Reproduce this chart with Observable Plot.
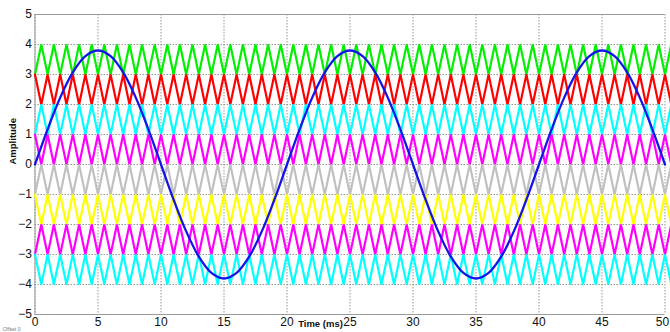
<!DOCTYPE html>
<html>
<head>
<meta charset="utf-8">
<script src="https://cdn.jsdelivr.net/npm/d3@7"></script>
<script src="https://cdn.jsdelivr.net/npm/@observablehq/plot@0.6"></script>
<style>
  html, body { margin: 0; padding: 0; background: #fff; }
  #chart { width: 670px; height: 332px; overflow: hidden; }
</style>
</head>
<body>
<div id="chart"></div>
<script>
// Tick labels
const xTicks = [0, 5, 10, 15, 20, 25, 30, 35, 40, 45, 50];
const yTicks = [-5, -4, -3, -2, -1, 0, 1, 2, 3, 4, 5];

// Triangle-wave vertex times (ms)
const vertexTimes = [
  0, 0.5, 1, 1.5, 2, 2.5, 3, 3.5, 4, 4.5, 5, 5.5, 6, 6.5, 7, 7.5, 8, 8.5, 9, 9.5,
  10, 10.5, 11, 11.5, 12, 12.5, 13, 13.5, 14, 14.5, 15, 15.5, 16, 16.5, 17, 17.5, 18, 18.5, 19, 19.5,
  20, 20.5, 21, 21.5, 22, 22.5, 23, 23.5, 24, 24.5, 25, 25.5, 26, 26.5, 27, 27.5, 28, 28.5, 29, 29.5,
  30, 30.5, 31, 31.5, 32, 32.5, 33, 33.5, 34, 34.5, 35, 35.5, 36, 36.5, 37, 37.5, 38, 38.5, 39, 39.5,
  40, 40.5, 41, 41.5, 42, 42.5, 43, 43.5, 44, 44.5, 45, 45.5, 46, 46.5, 47, 47.5, 48, 48.5, 49, 49.5,
  50, 50.5
];

// Triangle series values at the vertex times
const green = [
  3,4,3,4,3,4,3,4,3,4,3,4,3,4,3,4,3,4,3,4,
  3,4,3,4,3,4,3,4,3,4,3,4,3,4,3,4,3,4,3,4,
  3,4,3,4,3,4,3,4,3,4,3,4,3,4,3,4,3,4,3,4,
  3,4,3,4,3,4,3,4,3,4,3,4,3,4,3,4,3,4,3,4,
  3,4,3,4,3,4,3,4,3,4,3,4,3,4,3,4,3,4,3,4,
  3,4
];
const red = [
  3,2,3,2,3,2,3,2,3,2,3,2,3,2,3,2,3,2,3,2,
  3,2,3,2,3,2,3,2,3,2,3,2,3,2,3,2,3,2,3,2,
  3,2,3,2,3,2,3,2,3,2,3,2,3,2,3,2,3,2,3,2,
  3,2,3,2,3,2,3,2,3,2,3,2,3,2,3,2,3,2,3,2,
  3,2,3,2,3,2,3,2,3,2,3,2,3,2,3,2,3,2,3,2,
  3,2
];
const cyanHigh = [
  1,2,1,2,1,2,1,2,1,2,1,2,1,2,1,2,1,2,1,2,
  1,2,1,2,1,2,1,2,1,2,1,2,1,2,1,2,1,2,1,2,
  1,2,1,2,1,2,1,2,1,2,1,2,1,2,1,2,1,2,1,2,
  1,2,1,2,1,2,1,2,1,2,1,2,1,2,1,2,1,2,1,2,
  1,2,1,2,1,2,1,2,1,2,1,2,1,2,1,2,1,2,1,2,
  1,2
];
const magentaHigh = [
  1,0,1,0,1,0,1,0,1,0,1,0,1,0,1,0,1,0,1,0,
  1,0,1,0,1,0,1,0,1,0,1,0,1,0,1,0,1,0,1,0,
  1,0,1,0,1,0,1,0,1,0,1,0,1,0,1,0,1,0,1,0,
  1,0,1,0,1,0,1,0,1,0,1,0,1,0,1,0,1,0,1,0,
  1,0,1,0,1,0,1,0,1,0,1,0,1,0,1,0,1,0,1,0,
  1,0
];
const gray = [
  -1,0,-1,0,-1,0,-1,0,-1,0,-1,0,-1,0,-1,0,-1,0,-1,0,
  -1,0,-1,0,-1,0,-1,0,-1,0,-1,0,-1,0,-1,0,-1,0,-1,0,
  -1,0,-1,0,-1,0,-1,0,-1,0,-1,0,-1,0,-1,0,-1,0,-1,0,
  -1,0,-1,0,-1,0,-1,0,-1,0,-1,0,-1,0,-1,0,-1,0,-1,0,
  -1,0,-1,0,-1,0,-1,0,-1,0,-1,0,-1,0,-1,0,-1,0,-1,0,
  -1,0
];
const yellow = [
  -1,-2,-1,-2,-1,-2,-1,-2,-1,-2,-1,-2,-1,-2,-1,-2,-1,-2,-1,-2,
  -1,-2,-1,-2,-1,-2,-1,-2,-1,-2,-1,-2,-1,-2,-1,-2,-1,-2,-1,-2,
  -1,-2,-1,-2,-1,-2,-1,-2,-1,-2,-1,-2,-1,-2,-1,-2,-1,-2,-1,-2,
  -1,-2,-1,-2,-1,-2,-1,-2,-1,-2,-1,-2,-1,-2,-1,-2,-1,-2,-1,-2,
  -1,-2,-1,-2,-1,-2,-1,-2,-1,-2,-1,-2,-1,-2,-1,-2,-1,-2,-1,-2,
  -1,-2
];
const magentaLow = [
  -3,-2,-3,-2,-3,-2,-3,-2,-3,-2,-3,-2,-3,-2,-3,-2,-3,-2,-3,-2,
  -3,-2,-3,-2,-3,-2,-3,-2,-3,-2,-3,-2,-3,-2,-3,-2,-3,-2,-3,-2,
  -3,-2,-3,-2,-3,-2,-3,-2,-3,-2,-3,-2,-3,-2,-3,-2,-3,-2,-3,-2,
  -3,-2,-3,-2,-3,-2,-3,-2,-3,-2,-3,-2,-3,-2,-3,-2,-3,-2,-3,-2,
  -3,-2,-3,-2,-3,-2,-3,-2,-3,-2,-3,-2,-3,-2,-3,-2,-3,-2,-3,-2,
  -3,-2
];
const cyanLow = [
  -3,-4,-3,-4,-3,-4,-3,-4,-3,-4,-3,-4,-3,-4,-3,-4,-3,-4,-3,-4,
  -3,-4,-3,-4,-3,-4,-3,-4,-3,-4,-3,-4,-3,-4,-3,-4,-3,-4,-3,-4,
  -3,-4,-3,-4,-3,-4,-3,-4,-3,-4,-3,-4,-3,-4,-3,-4,-3,-4,-3,-4,
  -3,-4,-3,-4,-3,-4,-3,-4,-3,-4,-3,-4,-3,-4,-3,-4,-3,-4,-3,-4,
  -3,-4,-3,-4,-3,-4,-3,-4,-3,-4,-3,-4,-3,-4,-3,-4,-3,-4,-3,-4,
  -3,-4
];

// Blue sine samples (ms, amplitude)
const sineTimes = [
  0,1,2,3,4,5,6,7,8,9,10,11,12,13,14,15,16,17,18,19,
  20,21,22,23,24,25,26,27,28,29,30,31,32,33,34,35,36,37,38,39,
  40,41,42,43,44,45,46,47,48,49,50
];
const sineValues = [
  0, 1.17, 2.23, 3.07, 3.61, 3.8, 3.61, 3.07, 2.23, 1.17,
  0, -1.17, -2.23, -3.07, -3.61, -3.8, -3.61, -3.07, -2.23, -1.17,
  0, 1.17, 2.23, 3.07, 3.61, 3.8, 3.61, 3.07, 2.23, 1.17,
  0, -1.17, -2.23, -3.07, -3.61, -3.8, -3.61, -3.07, -2.23, -1.17,
  0, 1.17, 2.23, 3.07, 3.61, 3.8, 3.61, 3.07, 2.23, 1.17,
  0
];

const bands = [
  {values: green, color: "#00f000"},
  {values: red, color: "#ff0000"},
  {values: cyanHigh, color: "#00ffff"},
  {values: magentaHigh, color: "#ff00ff"},
  {values: gray, color: "#c0c0c0"},
  {values: yellow, color: "#ffff00"},
  {values: magentaLow, color: "#ff00ff"},
  {values: cyanLow, color: "#00ffff"}
];

const gridStyle = {stroke: "#8a8a8a", strokeOpacity: 0.9, strokeDasharray: "1.5,1.5", strokeWidth: 1};
const axisStyle = {tickSize: 0, tickPadding: 3, label: null, fontSize: 12, fill: "#111"};

const chart = Plot.plot({
  width: 670,
  height: 332,
  marginLeft: 34.5,
  marginRight: 5.5,
  marginTop: 14,
  marginBottom: 18,
  style: {fontFamily: "'Liberation Sans', Arial, sans-serif", fontSize: "12px", color: "#111", background: "#fff", overflow: "hidden"},
  x: {domain: [xTicks[0], xTicks[xTicks.length - 1]]},
  y: {domain: [yTicks[0], yTicks[yTicks.length - 1]]},
  marks: [
    Plot.gridX(xTicks, gridStyle),
    Plot.gridY(yTicks, gridStyle),
    Plot.ruleY([yTicks[0], yTicks[yTicks.length - 1]], {stroke: "#9a9a9a", strokeWidth: 1}),
    Plot.ruleX([xTicks[0]], {stroke: "#9a9a9a", strokeWidth: 1}),
    ...bands.map(b => Plot.line(vertexTimes, {x: vertexTimes, y: b.values, stroke: b.color, strokeWidth: 2.2, strokeLinejoin: "miter"})),
    Plot.line(sineTimes, {x: sineTimes, y: sineValues, stroke: "#1414e8", strokeWidth: 2.3, curve: "catmull-rom"}),
    Plot.axisX(xTicks.slice(0, -1), axisStyle),
    Plot.axisX([xTicks[xTicks.length - 1]], {...axisStyle, dx: -2.5}),
    Plot.axisY(yTicks, axisStyle),
    Plot.text(["Time (ms)"], {frameAnchor: "bottom", dx: -29.5, dy: 9, fontSize: 9.5, fontWeight: "bold", fill: "#111", lineAnchor: "middle"}),
    Plot.text(["Amplitude"], {frameAnchor: "left", dx: -22, rotate: -90, fontSize: 9.5, fontWeight: "bold", fill: "#111"}),
    Plot.text(["Offset 0"], {frameAnchor: "bottom-left", dx: -32, dy: 15, fontSize: 5, fill: "#777", textAnchor: "start", lineAnchor: "middle"})
  ]
});
document.getElementById("chart").appendChild(chart);
</script>
</body>
</html>
